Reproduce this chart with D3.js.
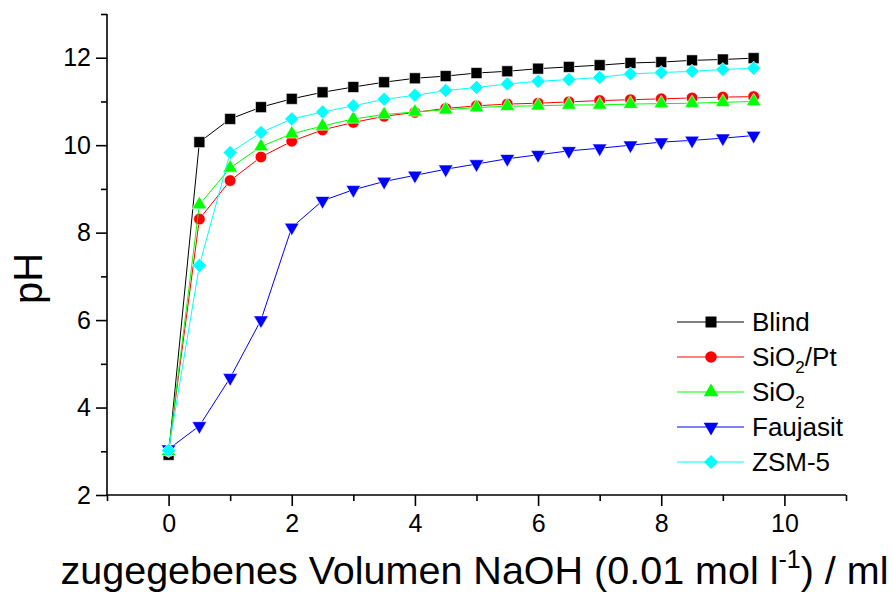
<!DOCTYPE html>
<html>
<head>
<meta charset="utf-8">
<script src="https://cdn.jsdelivr.net/npm/d3@7"></script>
<style>
  html, body { margin: 0; padding: 0; background: #fff; }
  svg { display: block; }
  text { font-family: "Liberation Sans", Arial, sans-serif; fill: #000; }
</style>
</head>
<body>
<svg id="chart" width="893" height="592"></svg>
<script>
// ---- data ----
const volumes = [0, 0.5, 1, 1.5, 2, 2.5, 3, 3.5, 4, 4.5, 5, 5.5, 6, 6.5, 7, 7.5, 8, 8.5, 9, 9.5];
const blind    = [2.92, 10.07, 10.60, 10.87, 11.06, 11.21, 11.33, 11.44, 11.53, 11.58, 11.65, 11.69, 11.75, 11.79, 11.83, 11.88, 11.90, 11.94, 11.96, 11.99];
const sio2Pt   = [3.00, 8.31, 9.19, 9.73, 10.09, 10.35, 10.52, 10.66, 10.75, 10.84, 10.90, 10.94, 10.96, 10.99, 11.02, 11.04, 11.06, 11.08, 11.10, 11.11];
const sio2     = [3.00, 8.64, 9.48, 9.97, 10.26, 10.44, 10.60, 10.70, 10.76, 10.81, 10.86, 10.89, 10.90, 10.92, 10.92, 10.94, 10.95, 10.96, 10.98, 11.00];
const faujasit = [3.05, 3.58, 4.68, 6.00, 8.12, 8.73, 8.98, 9.17, 9.31, 9.45, 9.57, 9.69, 9.78, 9.87, 9.93, 10.00, 10.07, 10.11, 10.16, 10.22];
const zsm5     = [3.02, 7.25, 9.83, 10.29, 10.60, 10.76, 10.90, 11.05, 11.14, 11.25, 11.32, 11.40, 11.46, 11.50, 11.55, 11.63, 11.66, 11.69, 11.73, 11.76];

const seriesNames = ["Blind", "SiO2/Pt", "SiO2", "Faujasit", "ZSM-5"];
const seriesValues = [blind, sio2Pt, sio2, faujasit, zsm5];
const seriesColors = ["#000000", "#ff0000", "#00ff00", "#0000ff", "#00ffff"];
const seriesSymbols = ["square", "circle", "triangleUp", "triangleDown", "diamond"];

const xMajorTicks = [0, 2, 4, 6, 8, 10];
const xMinorTicks = [-1, 1, 3, 5, 7, 9, 11];
const yMajorTicks = [2, 4, 6, 8, 10, 12];
const yMinorTicks = [3, 5, 7, 9, 11, 13];

// ---- layout ----
const svg = d3.select("#chart");
const plot = { left: 107, right: 846, top: 14, bottom: 495 };

const x = d3.scaleLinear().domain([-1, 11]).range([plot.left, plot.right]);
const y = d3.scaleLinear().domain([2, 13]).range([plot.bottom, plot.top]);

// ---- axes ----
const axisColor = "#000";
const gx = svg.append("g").attr("transform", `translate(0,${plot.bottom})`);
gx.call(d3.axisBottom(x).tickValues(xMajorTicks).tickSize(11).tickPadding(8).tickFormat(d3.format("d")));
gx.append("g").call(d3.axisBottom(x).tickValues(xMinorTicks).tickSize(6).tickFormat(""));
gx.selectAll(".tick line").attr("stroke-width", 1.6);
gx.selectAll(".tick text").style("font-size", "25px").attr("font-family", null);

const gy = svg.append("g").attr("transform", `translate(${plot.left},0)`);
gy.call(d3.axisLeft(y).tickValues(yMajorTicks).tickSize(11).tickPadding(5).tickFormat(d3.format("d")));
gy.append("g").call(d3.axisLeft(y).tickValues(yMinorTicks).tickSize(6).tickFormat(""));
gy.selectAll(".tick line").attr("stroke-width", 1.6);
gy.selectAll(".tick text").style("font-size", "25px").attr("font-family", null);
svg.selectAll(".domain").remove();
svg.append("line").attr("x1", plot.left).attr("x2", plot.right).attr("y1", plot.bottom).attr("y2", plot.bottom)
  .attr("stroke", axisColor).attr("stroke-width", 1.6);
svg.append("line").attr("x1", plot.left).attr("x2", plot.left).attr("y1", plot.bottom + 0.8).attr("y2", plot.top)
  .attr("stroke", axisColor).attr("stroke-width", 1.6);

// ---- axis titles ----
const xt = svg.append("text")
  .attr("x", (plot.left + plot.right) / 2 - 2)
  .attr("y", 584)
  .attr("text-anchor", "middle")
  .style("font-size", "39.5px");
xt.append("tspan").text("zugegebenes Volumen NaOH (0.01 mol l");
xt.append("tspan").text("-1").style("font-size", "25px").attr("dy", -16);
xt.append("tspan").text(") / ml").attr("dy", 16);

svg.append("text")
  .attr("transform", `translate(42,${(plot.top + plot.bottom) / 2 + 24}) rotate(-90)`)
  .attr("text-anchor", "middle")
  .style("font-size", "40px")
  .text("pH");

// ---- symbols ----
const symbolTypes = {
  square: d3.symbolSquare,
  circle: d3.symbolCircle,
  triangleUp: d3.symbolTriangle,
  triangleDown: d3.symbolTriangle,
  diamond: d3.symbolSquare
};
const symbolSizes = { square: 121, circle: 105, triangleUp: 92, triangleDown: 92, diamond: 100 };
function symbolPath(name) {
  return d3.symbol().type(symbolTypes[name]).size(symbolSizes[name])();
}
function symbolTransform(name, cx, cy) {
  let t = `translate(${cx},${cy})`;
  if (name === "triangleDown") t += " rotate(180)";
  if (name === "diamond") t += " rotate(45)";
  return t;
}

// ---- series ----
const line = d3.line().x(d => x(d[0])).y(d => y(d[1]));
seriesValues.forEach((vals, i) => {
  const pts = volumes.map((v, j) => [v, vals[j]]);
  const g = svg.append("g");
  g.append("path").datum(pts).attr("d", line)
    .attr("fill", "none").attr("stroke", seriesColors[i]).attr("stroke-width", 1);
  g.selectAll("path.m").data(pts).enter().append("path").attr("class", "m")
    .attr("d", symbolPath(seriesSymbols[i]))
    .attr("transform", d => symbolTransform(seriesSymbols[i], x(d[0]), y(d[1])))
    .attr("fill", seriesColors[i])
    .attr("stroke", "#fff").attr("stroke-width", 0.6);
});

// ---- legend ----
const legend = { x1: 677, x2: 744, xm: 711, xText: 752, y0: 322, dy: 35 };
seriesNames.forEach((name, i) => {
  const cy = legend.y0 + i * legend.dy;
  svg.append("line").attr("x1", legend.x1).attr("x2", legend.x2).attr("y1", cy).attr("y2", cy)
    .attr("stroke", seriesColors[i]).attr("stroke-width", 1);
  svg.append("path").attr("d", symbolPath(seriesSymbols[i]))
    .attr("transform", symbolTransform(seriesSymbols[i], legend.xm, cy))
    .attr("fill", seriesColors[i]);
  const t = svg.append("text").attr("x", legend.xText).attr("y", cy + 9).style("font-size", "26px");
  if (name === "SiO2/Pt") {
    t.append("tspan").text("SiO");
    t.append("tspan").text("2").style("font-size", "17px").attr("dy", 7);
    t.append("tspan").text("/Pt").attr("dy", -7);
  } else if (name === "SiO2") {
    t.append("tspan").text("SiO");
    t.append("tspan").text("2").style("font-size", "17px").attr("dy", 7);
  } else {
    t.text(name);
  }
});
</script>
</body>
</html>
